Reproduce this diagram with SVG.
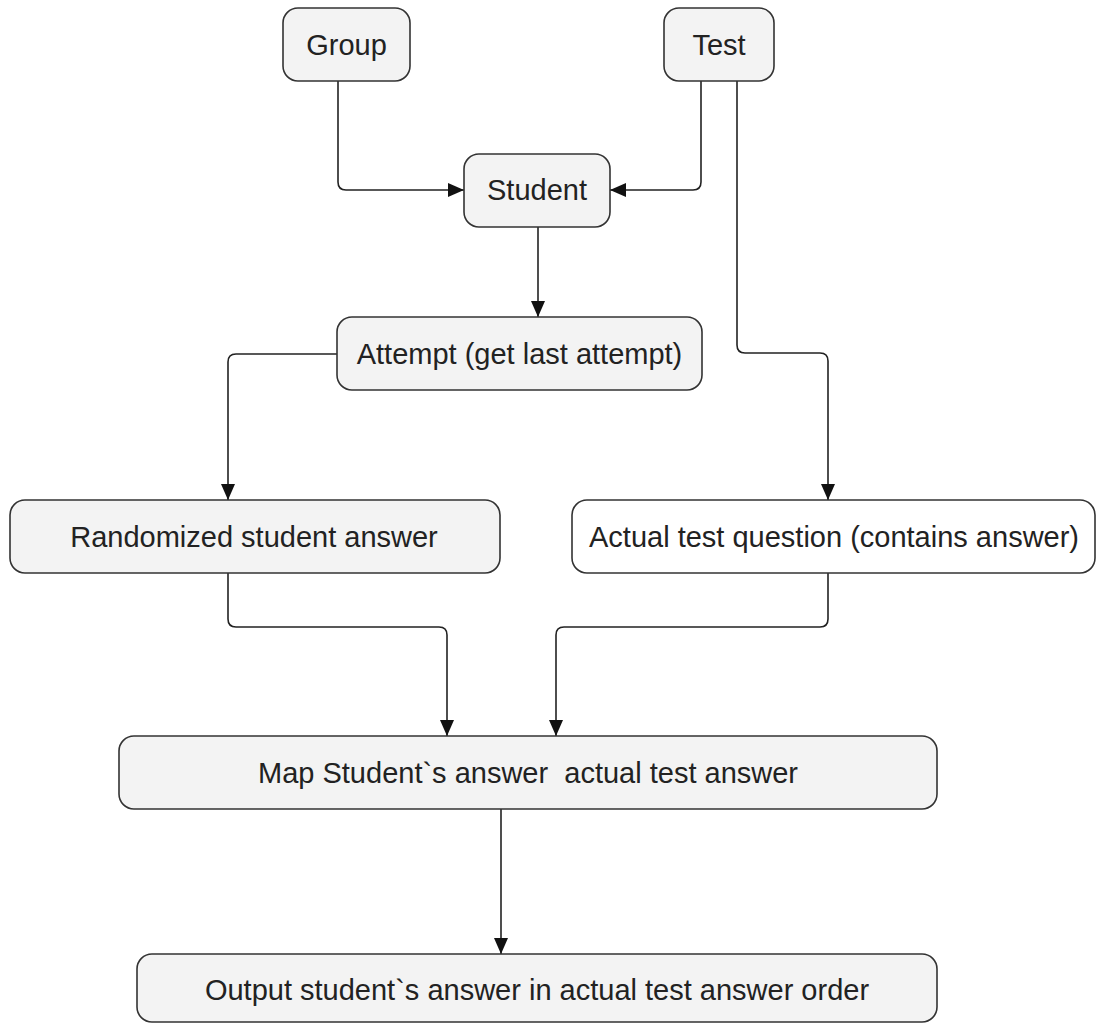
<svg xmlns="http://www.w3.org/2000/svg" width="1096" height="1024" viewBox="0 0 1096 1024">
<style>
.box{fill:#f3f3f3;stroke:#333;stroke-width:1.6}
.wbox{fill:#ffffff;stroke:#333;stroke-width:1.6}
.lbl{font-family:"Liberation Sans",Arial,sans-serif;font-size:29px;fill:#222;text-anchor:middle;white-space:pre}
.edge{fill:none;stroke:#222;stroke-width:1.6}
</style>
<defs>
<marker id="arr" viewBox="0 0 16 14" refX="16" refY="7" markerWidth="16" markerHeight="14" markerUnits="userSpaceOnUse" orient="auto">
<path d="M0,0 L16,7 L0,14 Z" fill="#111"/>
</marker>
</defs>
<rect width="1096" height="1024" fill="#fff"/>
<g id="connectors">
<path class="edge" marker-end="url(#arr)" d="M338,81 V182 Q338,190 346,190 H464"/>
<path class="edge" marker-end="url(#arr)" d="M701,81 V182 Q701,190 693,190 H610"/>
<path class="edge" marker-end="url(#arr)" d="M538,227 V317"/>
<path class="edge" marker-end="url(#arr)" d="M337,354 H236 Q228,354 228,362 V500"/>
<path class="edge" marker-end="url(#arr)" d="M737,81 V345 Q737,353 745,353 H820 Q828,353 828,361 V500"/>
<path class="edge" marker-end="url(#arr)" d="M228,573 V619 Q228,627 236,627 H439 Q447,627 447,635 V736"/>
<path class="edge" marker-end="url(#arr)" d="M828,573 V619 Q828,627 820,627 H564 Q556,627 556,635 V736"/>
<path class="edge" marker-end="url(#arr)" d="M501,809 V954"/>
</g>
<g id="group">
<rect class="box" x="283" y="8" width="127" height="73" rx="15"/>
<text class="lbl" x="346.5" y="55">Group</text>
</g>
<g id="test">
<rect class="box" x="664" y="8" width="110" height="73" rx="15"/>
<text class="lbl" x="719" y="55">Test</text>
</g>
<g id="student">
<rect class="box" x="464" y="154" width="146" height="73" rx="15"/>
<text class="lbl" x="537" y="200">Student</text>
</g>
<g id="attempt">
<rect class="box" x="337" y="317" width="365" height="73" rx="15"/>
<text class="lbl" x="519.5" y="364">Attempt (get last attempt)</text>
</g>
<g id="randomized">
<rect class="box" x="10" y="500" width="490" height="73" rx="15"/>
<text class="lbl" x="254" y="547">Randomized student answer</text>
</g>
<g id="actual">
<rect class="wbox" x="572" y="500" width="523" height="73" rx="15"/>
<text class="lbl" x="834" y="547">Actual test question (contains answer)</text>
</g>
<g id="map">
<rect class="box" x="119" y="736" width="818" height="73" rx="15"/>
<text class="lbl" x="528" y="783">Map Student`s answer  actual test answer</text>
</g>
<g id="output">
<rect class="box" x="137" y="954" width="800" height="68" rx="15"/>
<text class="lbl" x="537" y="1000">Output student`s answer in actual test answer order</text>
</g>
</svg>
